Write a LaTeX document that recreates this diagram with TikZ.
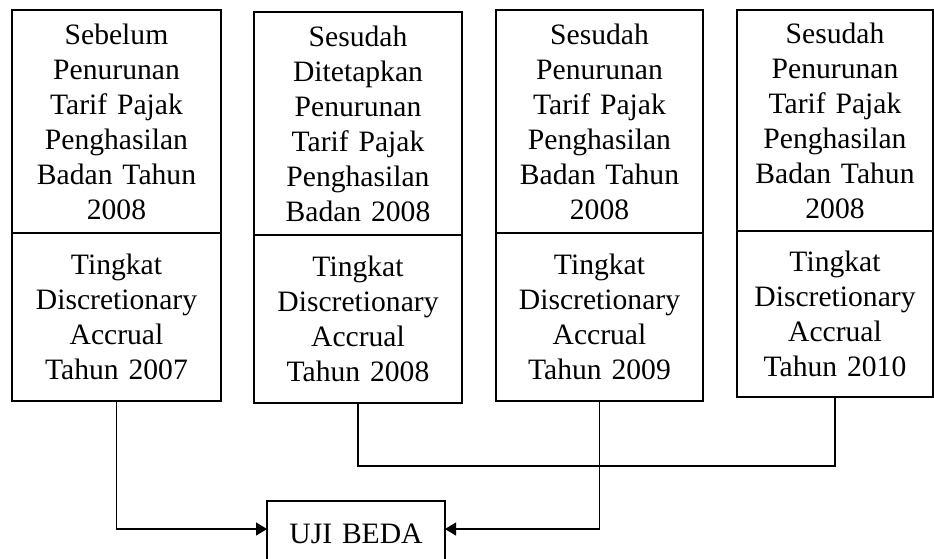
\documentclass[tikz,border=0pt]{standalone}
\usepackage{fontspec}
\setmainfont{Liberation Serif}
\usepackage{xcolor}
\usepackage{tikz}
\usetikzlibrary{arrows.meta}
\definecolor{garis}{RGB}{0, 0, 0}

\tikzset{
    kotak/.style={draw=garis, line width=1.3pt, align=center, inner sep=0pt, outer sep=0pt,
        font=\fontsize{29.6}{35}\selectfont},
    panah/.style={draw=garis, line width=1.3pt, -{Triangle[length=11pt, width=13pt]}},
    jalur/.style={draw=garis, line width=1.3pt}
}

\begin{document}
\begin{tikzpicture}[x=1pt, y=-1pt]
    \useasboundingbox (0,0) rectangle (934,558);

    \node[kotak, anchor=north west, text width=209pt, minimum height=223pt] (col1top) at (12,10)
        {Sebelum\\Penurunan\\Tarif Pajak\\Penghasilan\\Badan Tahun\\2008};
    \node[kotak, anchor=north, text width=209pt, minimum height=168pt] (col1bot) at (col1top.south)
        {Tingkat\\Discretionary\\Accrual\\Tahun 2007};

    \node[kotak, anchor=north west, text width=208pt, minimum height=223pt] (col2top) at (254,12)
        {Sesudah\\Ditetapkan\\Penurunan\\Tarif Pajak\\Penghasilan\\Badan 2008};
    \node[kotak, anchor=north, text width=208pt, minimum height=168pt] (col2bot) at (col2top.south)
        {Tingkat\\Discretionary\\Accrual\\Tahun 2008};

    \node[kotak, anchor=north west, text width=207pt, minimum height=223pt] (col3top) at (496,10)
        {Sesudah\\Penurunan\\Tarif Pajak\\Penghasilan\\Badan Tahun\\2008};
    \node[kotak, anchor=north, text width=207pt, minimum height=168pt] (col3bot) at (col3top.south)
        {Tingkat\\Discretionary\\Accrual\\Tahun 2009};

    \node[kotak, anchor=north west, text width=196pt, minimum height=221pt] (col4top) at (737,10)
        {Sesudah\\Penurunan\\Tarif Pajak\\Penghasilan\\Badan Tahun\\2008};
    \node[kotak, anchor=north, text width=196pt, minimum height=166pt] (col4bot) at (col4top.south)
        {Tingkat\\Discretionary\\Accrual\\Tahun 2010};

    % kotak bawah terpotong di tepi gambar
    \node[kotak, text width=178pt, minimum height=66pt] (uji) at (356,534) {UJI BEDA};

    \coordinate (gabung) at (600,466);

    \draw[panah] (col1bot.south) |- ([yshift=5pt]uji.west);
    \draw[panah] (col3bot.south) |- ([yshift=5pt]uji.east);
    \draw[jalur] (col2bot.south) |- (gabung) -| (col4bot.south);
\end{tikzpicture}
\end{document}
